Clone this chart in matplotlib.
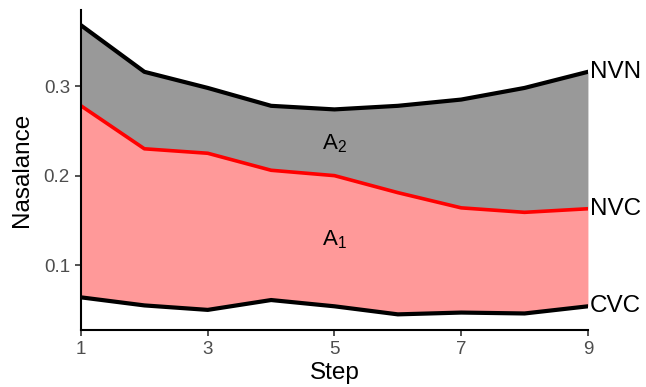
import numpy as np
import matplotlib.pyplot as plt

plt.rcParams['font.family'] = ['Liberation Sans', 'DejaVu Sans']

steps = [1, 2, 3, 4, 5, 6, 7, 8, 9]
nvn = [0.368, 0.316, 0.298, 0.278, 0.274, 0.278, 0.285, 0.298, 0.316]
nvc = [0.278, 0.230, 0.225, 0.206, 0.200, 0.181, 0.164, 0.159, 0.163]
cvc = [0.064, 0.055, 0.050, 0.061, 0.054, 0.045, 0.047, 0.046, 0.054]
xticks = [1, 3, 5, 7, 9]
yticks = [0.1, 0.2, 0.3]

fig = plt.figure(figsize=(6.46, 3.87), dpi=100)
ax = fig.add_axes([0.1254, 0.147, 0.7847, 0.827])

ax.fill_between(steps, nvc, nvn, color='#999999', lw=0)
ax.fill_between(steps, cvc, nvc, color='#ff9999', lw=0)
ax.plot(steps, nvn, color='black', lw=3, solid_joinstyle='round')
ax.plot(steps, cvc, color='black', lw=3, solid_joinstyle='round')
ax.plot(steps, nvc, color='red', lw=2.6, solid_joinstyle='round')

ax.text(5, 0.236, r'$\mathregular{A_2}$', fontsize=16, ha='center', va='center')
ax.text(5, 0.128, r'$\mathregular{A_1}$', fontsize=16, ha='center', va='center')

for lab, v in [('NVN', nvn[-1]), ('NVC', nvc[-1]), ('CVC', cvc[-1])]:
    ax.text(9.03, v, lab, fontsize=17.5, ha='left', va='center', clip_on=False)

ax.set_xlim(1, 9)
ax.set_ylim(0.0274, 0.385)
ax.set_xticks(xticks)
ax.set_yticks(yticks)
ax.set_xticklabels([str(t) for t in xticks])
ax.set_yticklabels([f'{t:.1f}' for t in yticks])
ax.tick_params(labelsize=13.5, labelcolor='#4d4d4d', color='#333333',
               length=4, width=1.2, direction='out', pad=4)
for s in ['top', 'right']:
    ax.spines[s].set_visible(False)
for s in ['left', 'bottom']:
    ax.spines[s].set_linewidth(1.5)
ax.set_xlabel('Step', fontsize=17.5, labelpad=3)
ax.set_ylabel('Nasalance', fontsize=17.5, labelpad=8)

plt.savefig('out.png', dpi=100)
plt.close()
